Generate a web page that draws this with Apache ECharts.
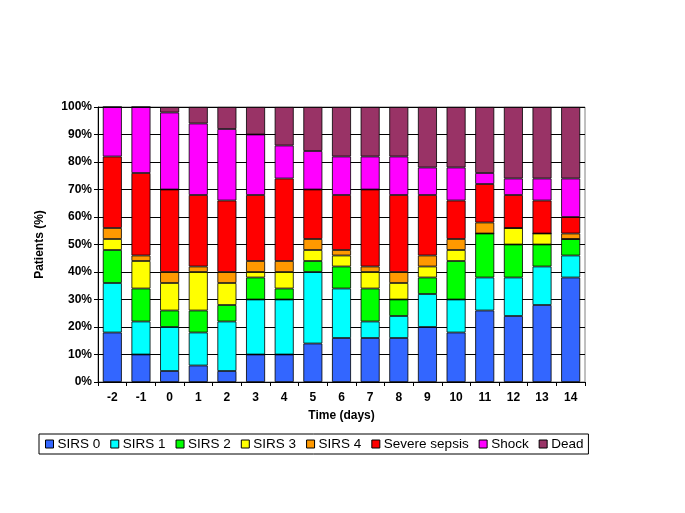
<!DOCTYPE html>
<html><head><meta charset="utf-8">
<script src="https://cdn.jsdelivr.net/npm/echarts@6/dist/echarts.min.js"></script>
<style>html,body{margin:0;padding:0;background:#fff}#c{width:685px;height:513px}</style>
</head><body><div id="c"></div>
<script>
const categories = ['-2','-1','0','1','2','3','4','5','6','7','8','9','10','11','12','13','14'];
const seriesNames = ['SIRS 0','SIRS 1','SIRS 2','SIRS 3','SIRS 4','Severe sepsis','Shock','Dead'];
const sirs0  = [18,10,4,6,4,10,10,14,16,16,16,20,18,26,24,28,38];
const sirs1  = [18,12,16,12,18,20,20,26,18,6,8,12,12,12,14,14,8];
const sirs2  = [12,12,6,8,6,8,4,4,8,12,6,6,14,16,12,8,6];
const sirs3  = [4,10,10,14,8,2,6,4,4,6,6,4,4,0,6,4,0];
const sirs4  = [4,2,4,2,4,4,4,4,2,2,4,4,4,4,0,0,2];
const severe = [26,30,30,26,26,24,30,18,20,28,28,22,14,14,12,12,6];
const shock  = [18,24,28,26,26,22,12,14,14,12,14,10,12,4,6,8,14];
const dead   = [0,0,2,6,8,10,14,16,18,18,18,22,22,24,26,26,26];
const yTicks = ['0%','10%','20%','30%','40%','50%','60%','70%','80%','90%','100%'];
const colors = ['#3366FF','#00FFFF','#00FF00','#FFFF00','#FF9900','#FF0000','#FF00FF','#993366'];
const allData = [sirs0,sirs1,sirs2,sirs3,sirs4,severe,shock,dead];
const font = 'Arial, "Liberation Sans", sans-serif';
const chart = echarts.init(document.getElementById('c'), null, {renderer:'canvas'});
chart.setOption({
  animation:false,
  grid:{left:98,right:100,top:107,bottom:131,show:true,borderColor:'#808080',borderWidth:1},
  legend:{
    left:39, top:434, width:680,
    data:seriesNames, icon:'rect', itemWidth:8, itemHeight:8, itemGap:10,
    borderColor:'#000', borderWidth:1, padding:[3,5,3,6],
    textStyle:{fontFamily:font,fontSize:13.5,color:'#000',padding:[0,0,0,-1]},
    itemStyle:{borderColor:'#000',borderWidth:1}
  },
  xAxis:{
    type:'category', data:categories,
    name:'Time (days)', nameLocation:'middle', nameGap:28,
    nameTextStyle:{fontFamily:font,fontSize:12,fontWeight:'bold',color:'#000'},
    axisLine:{lineStyle:{color:'#000'}},
    axisTick:{show:true,length:4,lineStyle:{color:'#000'}},
    axisLabel:{fontFamily:font,fontSize:12,fontWeight:'bold',color:'#000',margin:10}
  },
  yAxis:{
    type:'value', min:0, max:100, interval:10,
    name:'Patients (%)', nameLocation:'middle', nameGap:52,
    nameTextStyle:{fontFamily:font,fontSize:12,fontWeight:'bold',color:'#000'},
    axisLine:{show:true,lineStyle:{color:'#000'}},
    axisTick:{show:true,length:4,lineStyle:{color:'#000'}},
    axisLabel:{fontFamily:font,fontSize:12,fontWeight:'bold',color:'#000',margin:6,
      formatter:(v)=>yTicks[Math.round(v/10)]},
    splitLine:{show:true,lineStyle:{color:'#000',width:1}}
  },
  series: seriesNames.map((n,i)=>({
    name:n, type:'bar', stack:'total', data:allData[i], barWidth:19,
    itemStyle:{color:colors[i],borderColor:'#000',borderWidth:0.8}
  }))
});
</script></body></html>
